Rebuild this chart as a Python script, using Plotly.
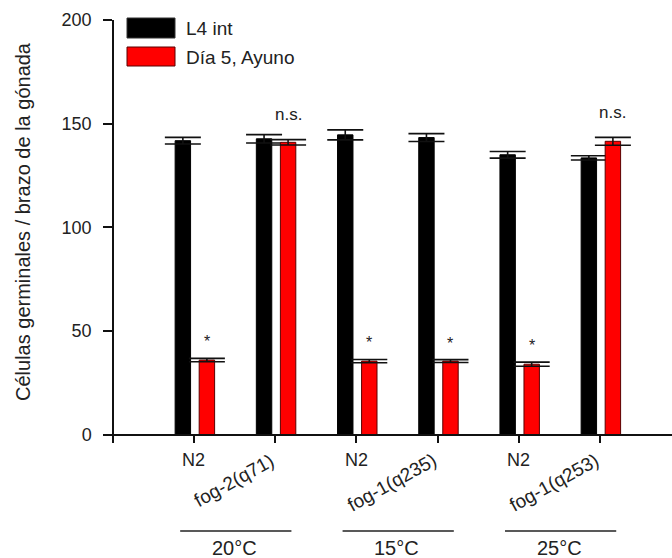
import plotly.graph_objects as go

# ---- data ----
categories = ["N2", "fog-2(q71)", "N2", "fog-1(q235)", "N2", "fog-1(q253)"]
temperatures = ["20°C", "15°C", "25°C"]
l4_int = [141.8, 142.7, 144.6, 143.3, 135.0, 133.5]
l4_int_err = [1.6, 2.0, 2.4, 1.9, 1.6, 1.0]
dia5_ayuno = [36.0, 141.0, 35.5, 35.5, 34.0, 141.5]
dia5_ayuno_err = [0.8, 1.3, 0.8, 0.7, 1.0, 1.9]
significance = ["*", "n.s.", "*", "*", "*", "n.s."]
series_names = ["L4 int", "Día 5, Ayuno"]
yticks = [0, 50, 100, 150, 200]

# ---- layout geometry (pixels) ----
W, H = 672, 558
ML, MR, MT, MB = 114, 0, 20, 115
PW, PH = W - ML - MR, H - MT - MB
YR = [-4, 200]
XR = [-0.985, 5.887]


def px(x):
    return (x - ML) / PW


def py(y):
    return (H - MB - y) / PH


FONT = "Liberation Sans, Arial, sans-serif"
TXT = "#222222"
xs = list(range(len(categories)))
BW = 0.19

fig = go.Figure()
fig.add_trace(go.Bar(
    x=xs, y=l4_int, width=BW, offset=-0.232, name=series_names[0],
    marker=dict(color="#000000", line=dict(color="#000000", width=1)),
    error_y=dict(type="data", array=l4_int_err, visible=True,
                 color="#111111", thickness=1.6, width=18),
    showlegend=False,
))
fig.add_trace(go.Bar(
    x=xs, y=dia5_ayuno, width=BW, offset=0.064, name=series_names[1],
    marker=dict(color="#FF0000", line=dict(color="#5a0000", width=1)),
    error_y=dict(type="data", array=dia5_ayuno_err, visible=True,
                 color="#111111", thickness=1.6, width=18),
    showlegend=False,
))

annotations = []
shapes = []

# significance marks above red bars
for i, s in enumerate(significance):
    yy = dia5_ayuno[i] + dia5_ayuno_err[i] + (8 if s == "*" else 12)
    annotations.append(dict(
        x=i + 0.064 + BW / 2, y=yy, xref="x", yref="y", text=s,
        showarrow=False, font=dict(family=FONT, size=17 if s != "*" else 16, color=TXT),
        xanchor="center", yanchor="middle"))

# category labels
for i, c in enumerate(categories):
    if c == "N2":
        annotations.append(dict(
            x=i, y=py(460), xref="x", yref="paper", text=c, showarrow=False,
            font=dict(family=FONT, size=18, color=TXT),
            xanchor="center", yanchor="middle"))
    else:
        annotations.append(dict(
            x=i, y=py(447), xref="x", yref="paper", text=c, showarrow=False,
            textangle=-29, xshift=5,
            font=dict(family=FONT, size=19, color=TXT),
            xanchor="right", yanchor="top"))

# temperature groups
for g, t in enumerate(temperatures):
    a, b = 2 * g, 2 * g + 1
    shapes.append(dict(type="line", xref="x", yref="paper",
                       x0=a - 0.17, x1=b + 0.2, y0=py(531), y1=py(531),
                       line=dict(color="#222222", width=1.5)))
    annotations.append(dict(
        x=(a + b) / 2, y=py(548), xref="x", yref="paper", text=t,
        showarrow=False, font=dict(family=FONT, size=20, color=TXT),
        xanchor="center", yanchor="middle"))

# legend (drawn manually for large swatches)
leg = [(series_names[0], "#000000", "#333333", 18, 38, 28),
       (series_names[1], "#FF0000", "#5a0000", 47, 66, 57)]
for name, fc, lc, y0, y1, yc in leg:
    shapes.append(dict(type="rect", xref="paper", yref="paper",
                       x0=px(127), x1=px(175), y0=py(y1), y1=py(y0),
                       fillcolor=fc, line=dict(color=lc, width=1)))
    annotations.append(dict(
        x=px(184), y=py(yc), xref="paper", yref="paper", text=name,
        showarrow=False, font=dict(family=FONT, size=19, color=TXT),
        xanchor="left", yanchor="middle"))

# y-axis title
annotations.append(dict(
    x=px(23), y=py(222), xref="paper", yref="paper",
    text="Células germinales / brazo de la gónada", textangle=-90,
    showarrow=False, font=dict(family=FONT, size=20, color=TXT),
    xanchor="center", yanchor="middle"))

fig.update_layout(
    width=W, height=H,
    margin=dict(l=ML, r=MR, t=MT, b=MB, pad=0),
    paper_bgcolor="white", plot_bgcolor="white",
    barmode="overlay",
    font=dict(family=FONT, color=TXT),
    xaxis=dict(range=XR, tickvals=xs, showticklabels=False, ticks="outside",
               ticklen=8, tickwidth=1.5, tickcolor="#111111",
               showline=True, linecolor="#111111", linewidth=1.5,
               showgrid=False, zeroline=False,
               anchor="free", position=(0 - YR[0]) / (YR[1] - YR[0])),
    yaxis=dict(range=YR, tickvals=yticks, ticks="outside", ticklen=9,
               tickwidth=1.5, tickcolor="#111111",
               showline=True, linecolor="#111111", linewidth=1.5,
               showgrid=False, zeroline=False, ticklabelstandoff=8,
               tickfont=dict(family=FONT, size=18, color=TXT)),
    annotations=annotations,
    shapes=shapes,
)

fig.write_html("out.html")
